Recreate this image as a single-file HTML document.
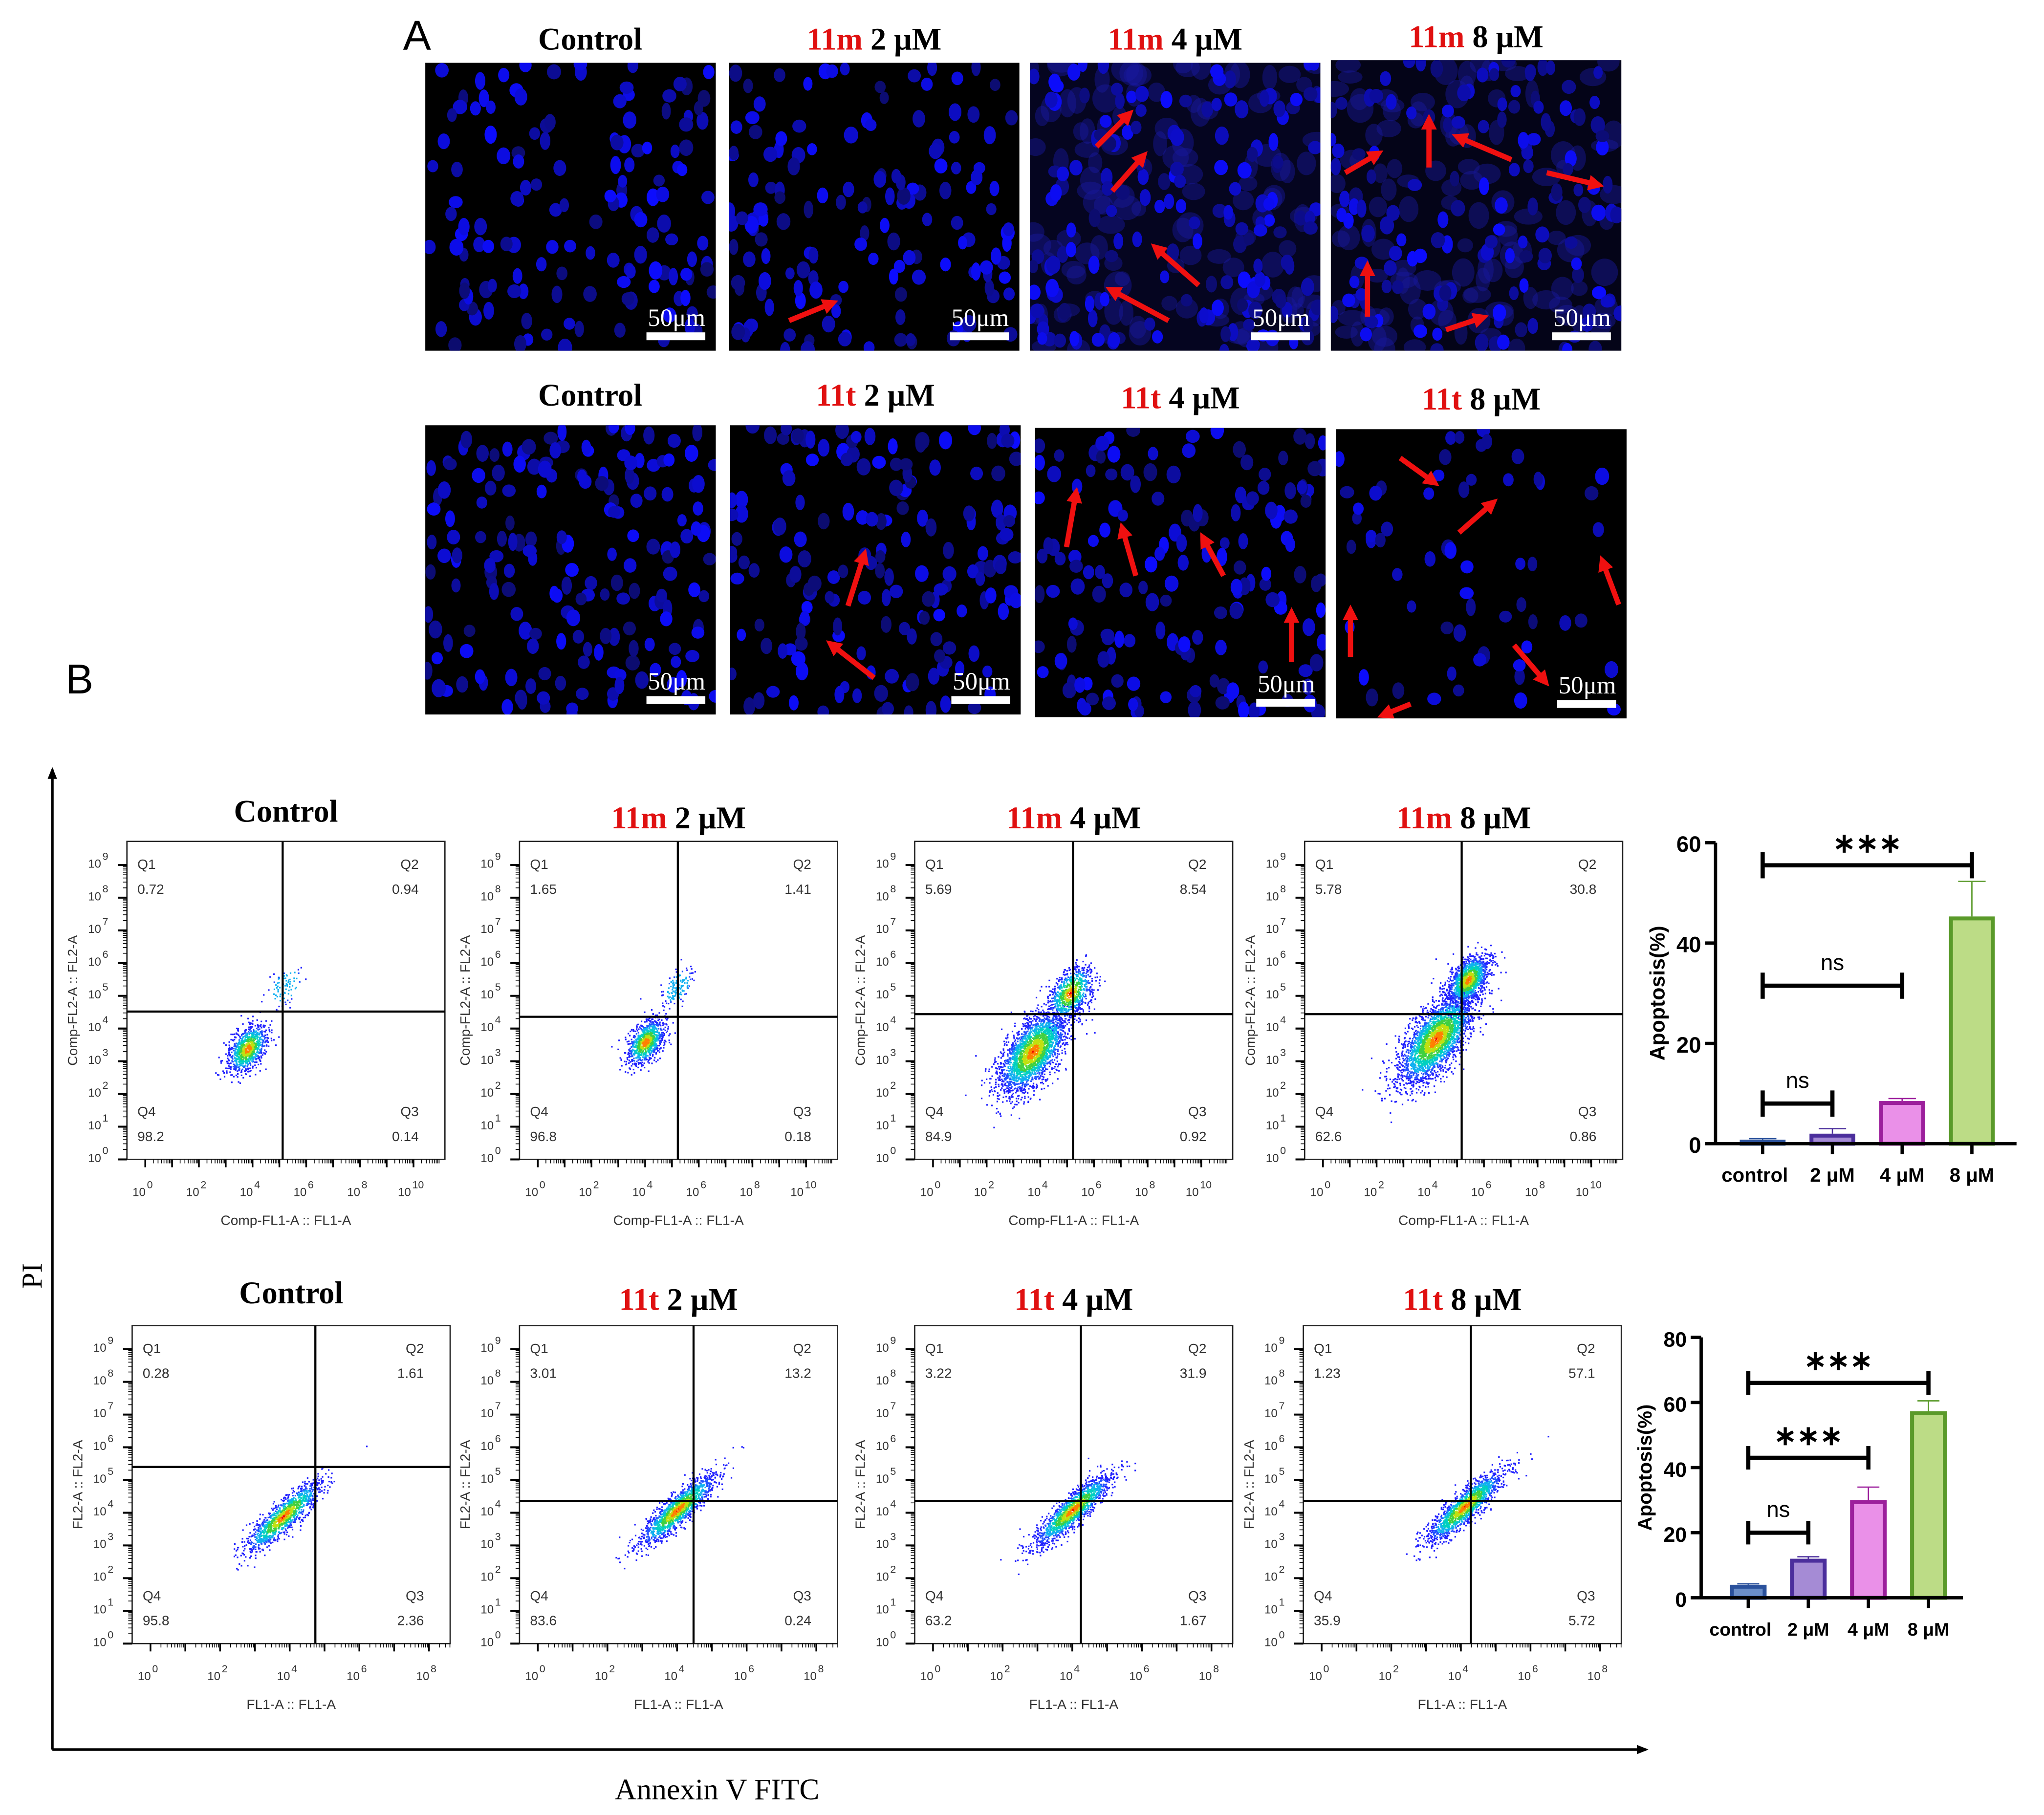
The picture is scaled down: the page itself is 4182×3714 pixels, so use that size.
<!DOCTYPE html>
<html><head><meta charset="utf-8">
<style>
html,body{margin:0;padding:0;background:#fff;}
svg{display:block;}
text{font-family:"Liberation Sans",sans-serif;}
.serif{font-family:"Liberation Serif",serif;}
</style></head>
<body>
<svg id="fig" xmlns="http://www.w3.org/2000/svg" width="4182" height="3714" viewBox="0 0 1562 1387" preserveAspectRatio="none">
<defs>
<marker id="ah" viewBox="0 0 10 10" refX="5" refY="5" markerWidth="3" markerHeight="3" orient="auto"><path d="M0,0 L10,5 L0,10 z" fill="#f01010"/></marker>
<marker id="bh" viewBox="0 0 10 10" refX="8" refY="5" markerWidth="9" markerHeight="9" orient="auto" markerUnits="userSpaceOnUse"><path d="M0,1 L10,5 L0,9 z" fill="#000"/></marker>
</defs>
<rect x="0" y="0" width="1562" height="1387" fill="#fff"/>
<text x="308" y="38" font-size="32">A</text>
<text x="50" y="530" font-size="32">B</text>
<g id="micro"></g>
<g id="flow"></g>
<g id="bars"></g>
<line x1="40" y1="1337" x2="40" y2="588" stroke="#000" stroke-width="2" marker-end="url(#bh)"/>
<line x1="40" y1="1337" x2="1258" y2="1337" stroke="#000" stroke-width="2" marker-end="url(#bh)"/>
<text class="serif" x="32" y="975" font-size="22" transform="rotate(-90 32 975)" text-anchor="middle">PI</text>
<text class="serif" x="548" y="1375" font-size="23" text-anchor="middle">Annexin V FITC</text>
</svg>
<script>
// ---------- data ----------
const barCats = ["control","2 μM","4 μM","8 μM"];
const bar1Values = [0.8, 2.0, 8.5, 45.3];
const bar1Errors = [0.2, 1.0, 0.5, 7.0];
const bar1Ticks = [0,20,40,60];
const bar2Values = [4.0, 12.0, 30.0, 57.3];
const bar2Errors = [0.3, 0.6, 4.0, 3.2];
const bar2Ticks = [0,20,40,60,80];
const sig1From = [0,0,0], sig1To = [1,2,3], sig1Y = [8,31.5,55.5], sig1Label = ["ns","ns","***"];
const sig2From = [0,0,0], sig2To = [1,2,3], sig2Y = [20,43,66], sig2Label = ["ns","***","***"];
const flowQ1Row1 = ["0.72","1.65","5.69","5.78"];
const flowQ2Row1 = ["0.94","1.41","8.54","30.8"];
const flowQ3Row1 = ["0.14","0.18","0.92","0.86"];
const flowQ4Row1 = ["98.2","96.8","84.9","62.6"];
const flowQ1Row2 = ["0.28","3.01","3.22","1.23"];
const flowQ2Row2 = ["1.61","13.2","31.9","57.1"];
const flowQ3Row2 = ["2.36","0.24","1.67","5.72"];
const flowQ4Row2 = ["95.8","83.6","63.2","35.9"];
const doses = ["Control","2 μM","4 μM","8 μM"];

const NS="http://www.w3.org/2000/svg";
function mk(tag, attrs, parent){const e=document.createElementNS(NS,tag);for(const k in attrs)e.setAttribute(k,attrs[k]);parent.appendChild(e);return e;}
let seed=12345;function rnd(){seed=(seed*1103515245+12345)&0x7fffffff;return seed/0x7fffffff;}
function gauss(){let u=rnd()||1e-6,v=rnd();return Math.sqrt(-2*Math.log(u))*Math.cos(2*Math.PI*v);}

// ---------- micrographs ----------
const micro=document.getElementById('micro');
const imgs=[
 {x:325,y:48,w:222,h:220,bg:"#000",title:["","Control"],n:140,haze:0},
 {x:557,y:48,w:222,h:220,bg:"#000",title:["11m"," 2 μM"],n:150,haze:0},
 {x:787,y:48,w:222,h:220,bg:"#050520",title:["11m"," 4 μM"],n:170,haze:1},
 {x:1017,y:46,w:222,h:222,bg:"#040418",title:["11m"," 8 μM"],n:140,haze:1},
 {x:325,y:325,w:222,h:221,bg:"#000",title:["","Control"],n:180,haze:0},
 {x:558,y:325,w:222,h:221,bg:"#000",title:["11t"," 2 μM"],n:170,haze:0},
 {x:791,y:327,w:222,h:221,bg:"#000",title:["11t"," 4 μM"],n:160,haze:0},
 {x:1021,y:328,w:222,h:221,bg:"#000",title:["11t"," 8 μM"],n:60,haze:0}
];
const arrows=[[],[[603,245,635,232]],
 [[838,112,862,88],[850,146,873,120],[916,218,884,190],[893,245,850,222]],
 [[1028,132,1052,118],[1092,128,1092,93],[1155,122,1115,105],[1182,132,1220,141],[1045,242,1045,205],[1105,252,1132,243]],
 [],[[648,463,660,425],[668,518,636,493]],
 [[815,418,822,378],[868,440,858,405],[935,440,920,412],[987,506,987,470]],
 [[1070,350,1095,368],[1115,407,1140,385],[1237,462,1225,430],[1032,502,1032,468],[1078,538,1058,546],[1157,493,1180,520]]];
imgs.forEach((im,i)=>{
  const g=mk('g',{},micro);
  
  
  const cp=mk('clipPath',{id:'cp'+i},g);mk('rect',{x:im.x,y:im.y,width:im.w,height:im.h},cp);
  const r=mk('rect',{x:im.x,y:im.y,width:im.w,height:im.h,fill:im.bg},g);
  
  
  const dg=mk('g',{'clip-path':'url(#cp'+i+')'},g);
  if(im.haze){for(let k=0;k<120;k++){const c=mk('ellipse',{cx:im.x+rnd()*im.w,cy:im.y+rnd()*im.h,rx:5+rnd()*6,ry:5+rnd()*6,fill:'#1818a0',opacity:0.45},dg);
    
    }}
  for(let k=0;k<im.n;k++){const b=110+Math.floor(rnd()*145);
    const c=mk('ellipse',{cx:im.x+rnd()*im.w,cy:im.y+rnd()*im.h,rx:3.5+rnd()*2,ry:4.5+rnd()*2.5,fill:'rgb(12,12,'+b+')'},dg);
    
    }
  const sb=mk('rect',{x:im.x+im.w-53,y:im.y+im.h-14,width:45,height:6,fill:'#fff'},g);
  
  
  const st=mk('text',{x:im.x+im.w-30,y:im.y+im.h-19,'font-size':19,fill:'#fff','text-anchor':'middle',class:'serif'},g);st.textContent='50μm';
  
  
  const ag=mk('g',{'clip-path':'url(#cp'+i+')'},g);
  arrows[i].forEach(a=>{const l=mk('line',{x1:a[0],y1:a[1],x2:a[2],y2:a[3],stroke:'#f01010','stroke-width':4,'marker-end':'url(#ah)'},ag);
    
    });
  const t=mk('text',{x:im.x+im.w/2+(i%4==0?15:0),y:im.y-10-(i>=4?5:0),'font-size':24,'font-weight':'bold','text-anchor':'middle',class:'serif'},micro);
  
  
  const t1=mk('tspan',{fill:'#e01010'},t);t1.textContent=im.title[0];
  const t2=mk('tspan',{fill:'#000'},t);t2.textContent=im.title[1];
});

// ---------- flow plots ----------
const flow=document.getElementById('flow');
// cloud: [centerLogX, centerLogY, spread, count, perpendicularRatio]
const rows=[
 {y:643,xs:[97,397,699,997],qv:[216,518,820,1117],qh:[773,777,775,775],drug:"11m",q:[flowQ1Row1,flowQ2Row1,flowQ3Row1,flowQ4Row1],
  xmax:10,dec:20.5,ylab:"Comp-FL2-A :: FL2-A",xlab:"Comp-FL1-A :: FL1-A",ty:633,
  clouds:[[[3.8,3.4,0.45,900,0.6],[5.2,5.3,0.4,80,0.6]],[[4.0,3.6,0.42,900,0.6],[5.2,5.3,0.35,120,0.6]],[[3.7,3.3,0.8,2500,0.5],[5.1,5.1,0.5,800,0.6]],[[4.2,3.7,0.9,2800,0.45],[5.4,5.5,0.45,1300,0.6]]]},
 {y:1013,xs:[101,397,699,996],qv:[241,530,826,1124],qh:[1121,1147,1147,1147],drug:"11t",q:[flowQ1Row2,flowQ2Row2,flowQ3Row2,flowQ4Row2],
  xmax:8,dec:26.6,ylab:"FL2-A :: FL2-A",xlab:"FL1-A :: FL1-A",ty:1001,
  clouds:[[[3.8,3.9,0.75,1200,0.25]],[[4.0,4.1,0.75,1400,0.25]],[[4.0,4.1,0.75,1500,0.25]],[[4.1,4.2,0.75,1500,0.25]]]}
];
const cmap=['#2020ff','#2050ff','#10b0f0','#00d0c0','#40d040','#c0e010','#ff8000','#f00000'];
rows.forEach((R,ri)=>{
 R.xs.forEach((x0,pi)=>{
  const y0=R.y, W=243, H=243, x1=x0+W, y1=y0+H;
  const g=mk('g',{},flow);
  
  
  const X=v=>x0+14+v*R.dec, Y=v=>y1-v*25;
  const cg=mk('g',{},g);
  R.clouds[pi].forEach(c=>{
    const pr=c[4];
    for(let k=0;k<c[3];k++){
      const a=gauss()*c[2], b=gauss()*c[2]*pr;
      const lx=c[0]+(a-b)*0.707, ly=c[1]+(a+b)*0.707;
      const px=X(lx), py=Y(ly);
      if(px<x0+1||px>x1-1||py<y0+1||py>y1-1)continue;
      const d=Math.sqrt((a/c[2])**2+(b/(c[2]*pr))**2);
      let ci=Math.max(0,Math.min(7,Math.floor(7.3-d*3.6)));
      if(c[3]<300) ci=Math.min(ci,2);
      const p=mk('rect',{x:px,y:py,width:1.2,height:1.2,fill:cmap[ci]},cg);
      
      
    }
  });
  const bx=mk('rect',{x:x0,y:y0,width:W,height:H,fill:'none',stroke:'#222','stroke-width':1},g);
  
  
  const lv=mk('line',{x1:R.qv[pi],y1:y0,x2:R.qv[pi],y2:y1,stroke:'#000','stroke-width':1.6},g);
  
  
  const lh=mk('line',{x1:x0,y1:R.qh[pi],x2:x1,y2:R.qh[pi],stroke:'#000','stroke-width':1.6},g);
  
  
  const ql=[["Q1",R.q[0][pi],x0+8,'start',y0+21],["Q2",R.q[1][pi],x1-20,'end',y0+21],["Q4",R.q[3][pi],x0+8,'start',y1-33],["Q3",R.q[2][pi],x1-20,'end',y1-33]];
  ql.forEach(q=>{
    const a=mk('text',{x:q[2],y:q[4],'font-size':10.5,fill:'#333','text-anchor':q[3]},g);a.textContent=q[0];
    
    
    const b=mk('text',{x:q[2],y:q[4]+19,'font-size':10.5,fill:'#333','text-anchor':q[3]},g);b.textContent=q[1];
    
    
  });
  for(let d=0;d<=9;d++){
    const yy=Y(d);
    mk('line',{x1:x0-7,y1:yy,x2:x0,y2:yy,stroke:'#000','stroke-width':1.5},g);
    if(d<9)for(let m=2;m<10;m++){const ym=Y(d+Math.log10(m));mk('line',{x1:x0-3,y1:ym,x2:x0,y2:ym,stroke:'#000','stroke-width':0.6},g);}
    const t=mk('text',{x:x0-22,y:yy+2,'font-size':9,'text-anchor':'middle',fill:'#333'},g);
    
    
    t.textContent='10';const s=mk('tspan',{dx:1,dy:-6,'font-size':8},t);s.textContent=d;
  }
  for(let d=0;d<=R.xmax;d++){
    const xx=X(d);
    if(xx>x1+2)break;
    mk('line',{x1:xx,y1:y1,x2:xx,y2:y1+6,stroke:'#000','stroke-width':1.3},g);
    for(let m=2;m<10;m++){const xm=X(d+Math.log10(m));if(xm<x1)mk('line',{x1:xm,y1:y1,x2:xm,y2:y1+3,stroke:'#000','stroke-width':0.6},g);}
    if(d%2==0){const t=mk('text',{x:xx-2,y:y1+28,'font-size':9,'text-anchor':'middle',fill:'#333'},g);
      
      
      t.textContent='10';const s=mk('tspan',{dx:1,dy:-6,'font-size':8},t);s.textContent=d;}
  }
  const xl=mk('text',{x:x0+W/2,y:y1+50,'font-size':10.5,'text-anchor':'middle',fill:'#333'},g);xl.textContent=R.xlab;
  
  
  const yl=mk('text',{x:x0-38,y:y0+H/2,'font-size':10.5,'text-anchor':'middle',fill:'#333',transform:'rotate(-90 '+(x0-38)+' '+(y0+H/2)+')'},g);yl.textContent=R.ylab;
  
  
  const tt=mk('text',{x:x0+W/2,y:R.ty-(pi==0?5:0),'font-size':24,'font-weight':'bold','text-anchor':'middle',class:'serif'},g);
  
  
  if(pi>0){const s1=mk('tspan',{fill:'#e01010'},tt);s1.textContent=R.drug+' ';}
  const s2=mk('tspan',{fill:'#000'},tt);s2.textContent=doses[pi];
 });
});

// ---------- bar charts ----------
const bars=document.getElementById('bars');
const barFill=['#6b8fc9','#a58bd5','#ea90e8','#bcdc86'];
const barStroke=['#2a519c','#4b2e9c','#9c1f9c','#5a9a2a'];
function drawBars(cfg, vals, errs, ticks, sf, st, sy, sl){
  const g=mk('g',{},bars);
  
  
  const ymax=ticks[ticks.length-1];
  const Y=v=>cfg.y0-(cfg.y0-cfg.yTop)*v/ymax;
  const X=i=>cfg.cx0+i*cfg.step;
  vals.forEach((v,i)=>{
    const eb=mk('line',{x1:X(i),y1:Y(v),x2:X(i),y2:Y(v+errs[i]),stroke:barStroke[i],'stroke-width':1},g);
    
    
    const ec=mk('line',{x1:X(i)-cfg.bw*0.3,y1:Y(v+errs[i]),x2:X(i)+cfg.bw*0.3,y2:Y(v+errs[i]),stroke:barStroke[i],'stroke-width':1},g);
    
    
    const r=mk('rect',{x:X(i)-cfg.bw/2+1.5,y:Y(v)+1.5,width:cfg.bw-3,height:Math.max(0,cfg.y0-Y(v)-1.5),fill:barFill[i],stroke:barStroke[i],'stroke-width':3},g);
    
    
    mk('line',{x1:X(i),y1:cfg.y0,x2:X(i),y2:cfg.y0+8,stroke:'#000','stroke-width':2.5},g);
    const t=mk('text',{x:X(i)+(i==0?-6:0),y:cfg.y0+29,'font-size':cfg.fs,'font-weight':'bold','text-anchor':'middle'},g);
    
    
    t.textContent=barCats[i];
  });
  mk('line',{x1:cfg.ax,y1:cfg.yTop,x2:cfg.ax,y2:cfg.y0,stroke:'#000','stroke-width':2.5},g);
  const xa=mk('line',{x1:cfg.ax,y1:cfg.y0,x2:cfg.xEnd,y2:cfg.y0,stroke:'#000','stroke-width':2.5},g);
  
  
  ticks.forEach(tv=>{
    mk('line',{x1:cfg.ax-8,y1:Y(tv),x2:cfg.ax,y2:Y(tv),stroke:'#000','stroke-width':2.5},g);
    const t=mk('text',{x:cfg.ax-11,y:Y(tv)+7,'font-size':cfg.fs+2,'font-weight':'bold','text-anchor':'end'},g);
    
    
    t.textContent=tv;
  });
  const yl=mk('text',{x:cfg.ylx,y:(cfg.y0+cfg.yTop)/2,'font-size':cfg.fs+1,'font-weight':'bold','text-anchor':'middle',transform:'rotate(-90 '+cfg.ylx+' '+(cfg.y0+cfg.yTop)/2+')'},g);
  
  
  yl.textContent='Apoptosis(%)';
  sf.forEach((f,k)=>{
    const yy=Y(sy[k]), xa1=X(f), xb=X(st[k]), hh=cfg.bh;
    const br=mk('path',{d:'M'+xa1+','+(yy-hh)+'V'+(yy+hh)+'M'+xa1+','+yy+'H'+xb+'M'+xb+','+(yy-hh)+'V'+(yy+hh),stroke:'#000','stroke-width':3.2,fill:'none'},g);
    
    
    const star=sl[k]==='***';
    const t=mk('text',{x:(xa1+xb)/2,y:yy-(star?10:12),'font-size':star?21:17,'font-weight':star?'bold':'normal','text-anchor':'middle'},g);
    
    
    t.textContent=star?'∗∗∗':sl[k];
  });
}
drawBars({name:'bar-chart-11m',ax:1311,xEnd:1541,y0:874,yTop:644,cx0:1347,step:53.3,bw:35,fs:15,ylx:1272,bh:10},bar1Values,bar1Errors,bar1Ticks,sig1From,sig1To,sig1Y,sig1Label);
drawBars({name:'bar-chart-11t',ax:1300,xEnd:1500,y0:1221,yTop:1022,cx0:1336,step:45.9,bw:28,fs:14,ylx:1262,bh:9},bar2Values,bar2Errors,bar2Ticks,sig2From,sig2To,sig2Y,sig2Label);
</script>
</body></html>
